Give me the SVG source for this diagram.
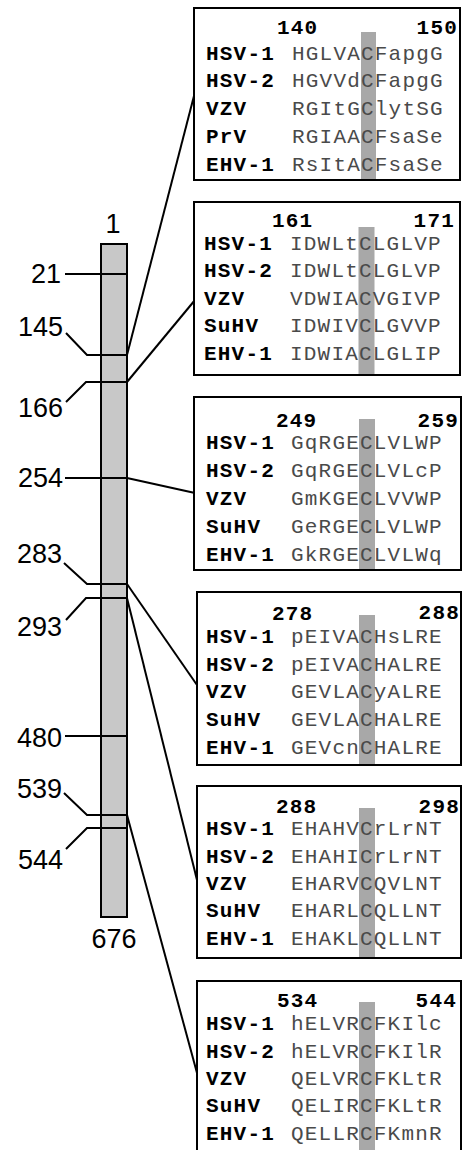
<svg xmlns="http://www.w3.org/2000/svg" width="462" height="1150" viewBox="0 0 462 1150">
<style>
.ln{stroke:#000;stroke-width:2;fill:none}
.box{fill:#fff;stroke:#000;stroke-width:2}
.hl{fill:#a8a8a8}
.pos{font-family:"Liberation Sans",Arial,sans-serif;font-size:27px;fill:#000}
.num{font-family:"Liberation Mono","Courier New",monospace;font-size:21px;letter-spacing:1.2px;font-weight:bold;fill:#000}
.lab{font-family:"Liberation Mono","Courier New",monospace;font-size:21px;letter-spacing:1.2px;font-weight:bold;fill:#000}
.seq{font-family:"Liberation Mono","Courier New",monospace;font-size:21px;letter-spacing:1.2px;fill:#4a4a4a}
</style>
<rect width="462" height="1150" fill="#fff"/>
<g id="bar">
<rect x="101" y="244" width="26" height="673" fill="#c8c8c8" stroke="#000" stroke-width="2"/>
<text class="pos" x="113" y="233" text-anchor="middle">1</text>
<text class="pos" x="114" y="948" text-anchor="middle">676</text>
</g>
<g id="ticks">
<path class="ln" d="M65 274H127"/>
<text class="pos" x="61" y="283" text-anchor="end">21</text>
<path class="ln" d="M66 333L87 355H127"/>
<text class="pos" x="63" y="336" text-anchor="end">145</text>
<path class="ln" d="M66 402L86 382H127"/>
<text class="pos" x="63" y="417" text-anchor="end">166</text>
<path class="ln" d="M65 478H127"/>
<text class="pos" x="63" y="487" text-anchor="end">254</text>
<path class="ln" d="M64 563L87 584H127"/>
<text class="pos" x="62" y="563" text-anchor="end">283</text>
<path class="ln" d="M66 620L86 598H127"/>
<text class="pos" x="62" y="636" text-anchor="end">293</text>
<path class="ln" d="M65 736H127"/>
<text class="pos" x="62" y="747" text-anchor="end">480</text>
<path class="ln" d="M64 793L87 815H127"/>
<text class="pos" x="62" y="798" text-anchor="end">539</text>
<path class="ln" d="M66 849L87 828H127"/>
<text class="pos" x="63" y="869" text-anchor="end">544</text>
</g>
<g id="connectors">
<path class="ln" d="M127 355L195 92"/>
<path class="ln" d="M127 382L195 300"/>
<path class="ln" d="M127 478L195 493"/>
<path class="ln" d="M127 584L197 685"/>
<path class="ln" d="M127 598L197 880"/>
<path class="ln" d="M127 815L197 1073"/>
</g>
<g id="box140">
<rect class="box" x="194" y="8" width="266" height="172"/>
<rect class="hl" x="361" y="32" width="15" height="147"/>
<text class="num" x="277" y="34">140</text>
<text class="num" x="458" y="34" text-anchor="end">150</text>
<text class="lab" x="206" y="60">HSV-1</text><text class="seq" x="292" y="60">HGLVACFapgG</text>
<text class="lab" x="206" y="87">HSV-2</text><text class="seq" x="292" y="87">HGVVdCFapgG</text>
<text class="lab" x="206" y="115">VZV</text><text class="seq" x="292" y="115">RGItGClytSG</text>
<text class="lab" x="206" y="143">PrV</text><text class="seq" x="292" y="143">RGIAACFsaSe</text>
<text class="lab" x="206" y="171">EHV-1</text><text class="seq" x="292" y="171">RsItACFsaSe</text>
</g>
<g id="box161">
<rect class="box" x="194" y="202" width="266" height="173"/>
<rect class="hl" x="358.5" y="227" width="16" height="147"/>
<text class="num" x="272" y="227">161</text>
<text class="num" x="455" y="227" text-anchor="end">171</text>
<text class="lab" x="204" y="250">HSV-1</text><text class="seq" x="290" y="250">IDWLtCLGLVP</text>
<text class="lab" x="204" y="277">HSV-2</text><text class="seq" x="290" y="277">IDWLtCLGLVP</text>
<text class="lab" x="204" y="305">VZV</text><text class="seq" x="290" y="305">VDWIACVGIVP</text>
<text class="lab" x="204" y="332">SuHV</text><text class="seq" x="290" y="332">IDWIVCLGVVP</text>
<text class="lab" x="204" y="360">EHV-1</text><text class="seq" x="290" y="360">IDWIACLGLIP</text>
</g>
<g id="box249">
<rect class="box" x="194" y="397" width="267" height="173"/>
<rect class="hl" x="359" y="419" width="16" height="150"/>
<text class="num" x="276" y="427">249</text>
<text class="num" x="459" y="427" text-anchor="end">259</text>
<text class="lab" x="206" y="449">HSV-1</text><text class="seq" x="291" y="449">GqRGECLVLWP</text>
<text class="lab" x="206" y="477">HSV-2</text><text class="seq" x="291" y="477">GqRGECLVLcP</text>
<text class="lab" x="206" y="505">VZV</text><text class="seq" x="291" y="505">GmKGECLVVWP</text>
<text class="lab" x="206" y="533">SuHV</text><text class="seq" x="291" y="533">GeRGECLVLWP</text>
<text class="lab" x="206" y="561">EHV-1</text><text class="seq" x="291" y="561">GkRGECLVLWq</text>
</g>
<g id="box278">
<rect class="box" x="197" y="592" width="264" height="173"/>
<rect class="hl" x="359" y="615" width="16" height="149"/>
<text class="num" x="272" y="620">278</text>
<text class="num" x="460" y="619" text-anchor="end">288</text>
<text class="lab" x="206" y="643">HSV-1</text><text class="seq" x="291" y="643">pEIVACHsLRE</text>
<text class="lab" x="206" y="671">HSV-2</text><text class="seq" x="291" y="671">pEIVACHALRE</text>
<text class="lab" x="206" y="698">VZV</text><text class="seq" x="291" y="698">GEVLACyALRE</text>
<text class="lab" x="206" y="726">SuHV</text><text class="seq" x="291" y="726">GEVLACHALRE</text>
<text class="lab" x="206" y="754">EHV-1</text><text class="seq" x="291" y="754">GEVcnCHALRE</text>
</g>
<g id="box288">
<rect class="box" x="197" y="786" width="264" height="172"/>
<rect class="hl" x="359" y="808" width="16" height="149"/>
<text class="num" x="276" y="813">288</text>
<text class="num" x="460" y="813" text-anchor="end">298</text>
<text class="lab" x="206" y="835">HSV-1</text><text class="seq" x="291" y="835">EHAHVCrLrNT</text>
<text class="lab" x="206" y="863">HSV-2</text><text class="seq" x="291" y="863">EHAHICrLrNT</text>
<text class="lab" x="206" y="890">VZV</text><text class="seq" x="291" y="890">EHARVCQVLNT</text>
<text class="lab" x="206" y="917">SuHV</text><text class="seq" x="291" y="917">EHARLCQLLNT</text>
<text class="lab" x="206" y="945">EHV-1</text><text class="seq" x="291" y="945">EHAKLCQLLNT</text>
</g>
<g id="box534">
<rect class="box" x="197" y="981" width="264" height="200"/>
<rect class="hl" x="359" y="1002" width="16" height="160"/>
<text class="num" x="277" y="1007">534</text>
<text class="num" x="457" y="1007" text-anchor="end">544</text>
<text class="lab" x="206" y="1030">HSV-1</text><text class="seq" x="291" y="1030">hELVRCFKIlc</text>
<text class="lab" x="206" y="1058">HSV-2</text><text class="seq" x="291" y="1058">hELVRCFKIlR</text>
<text class="lab" x="206" y="1085">VZV</text><text class="seq" x="291" y="1085">QELVRCFKLtR</text>
<text class="lab" x="206" y="1112">SuHV</text><text class="seq" x="291" y="1112">QELIRCFKLtR</text>
<text class="lab" x="206" y="1140">EHV-1</text><text class="seq" x="291" y="1140">QELLRCFKmnR</text>
</g>
</svg>
